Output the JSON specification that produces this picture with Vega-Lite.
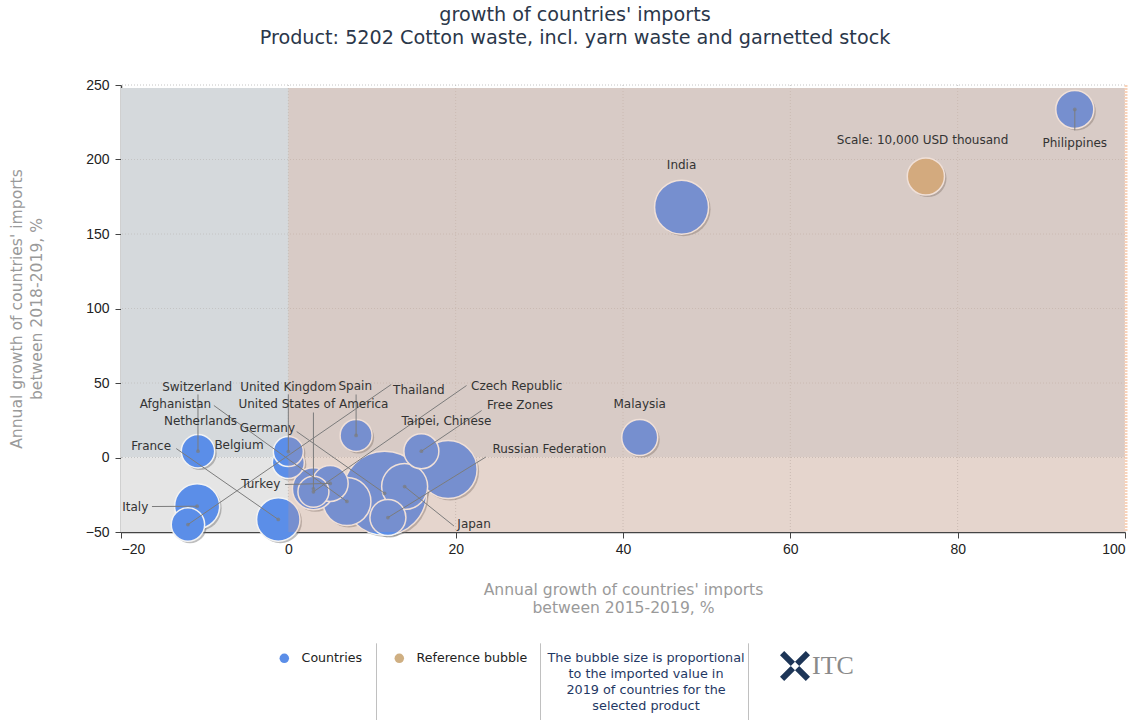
{
  "$schema": "https://vega.github.io/schema/vega-lite/v6.json",
  "width": 1004,
  "height": 447,
  "autosize": {"type": "none"},
  "padding": {"left": 121, "top": 85, "right": 18, "bottom": 188},
  "background": "white",
  "title": {
    "text": ["growth of countries' imports", "Product: 5202 Cotton waste, incl. yarn waste and garnetted stock"],
    "anchor": "middle",
    "frame": "group",
    "dx": -48,
    "offset": 30,
    "font": "DejaVu Sans",
    "fontSize": 19.2,
    "fontWeight": "normal",
    "color": "#2b374a",
    "lineHeight": 22.5
  },
  "config": {
    "view": {"stroke": null},
    "axis": {
      "grid": false,
      "domainColor": "#444444",
      "domainWidth": 1.5,
      "tickColor": "#444444",
      "tickSize": 6,
      "labelFont": "Liberation Sans",
      "labelFontSize": 14,
      "labelColor": "#222222",
      "titleFont": "DejaVu Sans",
      "titleFontSize": 15.6,
      "titleFontWeight": "normal",
      "titleColor": "#9a9a9a",
      "titleLineHeight": 18
    },
    "legend": {"labelFont": "DejaVu Sans", "titleFont": "DejaVu Sans"}
  },
  "resolve": {"scale": {"strokeDash": "independent"}, "legend": {"strokeDash": "independent"}},
  "datasets": {
    "bubbles": [
      {"name": "Germany", "type": "Countries", "x": 11.5, "y": -24.0, "value": 51000, "tx": -2.5, "ty": 20.1, "lx": 1.0, "ly": 17.4},
      {"name": "Taipei, Chinese", "type": "Countries", "x": 19.1, "y": -8.0, "value": 24300, "tx": 18.9, "ty": 24.8, "lx": null, "ly": null},
      {"name": "India", "type": "Countries", "x": 47.0, "y": 168.0, "value": 21070, "tx": 47.0, "ty": 196.6, "lx": null, "ly": null},
      {"name": "Afghanistan", "type": "Countries", "x": 7.0, "y": -29.5, "value": 16650, "tx": -13.5, "ty": 35.6, "lx": -8.9, "ly": 34.9},
      {"name": "Japan", "type": "Countries", "x": 13.9, "y": -19.5, "value": 15290, "tx": 22.2, "ty": -44.3, "lx": 19.8, "ly": -46.0},
      {"name": "Italy", "type": "Countries", "x": -10.9, "y": -32.7, "value": 14630, "tx": -18.3, "ty": -32.9, "lx": -16.3, "ly": -32.9},
      {"name": "France", "type": "Countries", "x": -1.2, "y": -41.6, "value": 13610, "tx": -16.4, "ty": 7.4, "lx": -13.4, "ly": 6.0},
      {"name": "United States of America", "type": "Countries", "x": 3.0, "y": -21.0, "value": 12750, "tx": 3.0, "ty": 35.6, "lx": 3.0, "ly": 30.2},
      {"name": "Philippines", "type": "Countries", "x": 94.0, "y": 233.6, "value": 10430, "tx": 94.0, "ty": 211.4, "lx": 94.0, "ly": 219.5},
      {"name": "Scale: 10,000 USD thousand", "type": "Reference bubble", "x": 76.2, "y": 188.6, "value": 10000, "tx": 75.8, "ty": 212.8, "lx": null, "ly": null},
      {"name": "Malaysia", "type": "Countries", "x": 42.0, "y": 13.4, "value": 9365, "tx": 42.0, "ty": 35.6, "lx": null, "ly": null},
      {"name": "Russian Federation", "type": "Countries", "x": 11.9, "y": -40.3, "value": 9365, "tx": 31.2, "ty": 5.4, "lx": 23.6, "ly": 0.3},
      {"name": "Turkey", "type": "Countries", "x": 5.0, "y": -17.4, "value": 9365, "tx": -3.3, "ty": -18.1, "lx": -0.4, "ly": -18.1},
      {"name": "Free Zones", "type": "Countries", "x": 15.9, "y": 4.2, "value": 8850, "tx": 27.7, "ty": 34.9, "lx": 23.1, "ly": 31.5},
      {"name": "Switzerland", "type": "Countries", "x": -10.8, "y": 4.2, "value": 2900, "tx": -10.9, "ty": 47.0, "lx": -10.8, "ly": 42.3},
      {"name": "Netherlands", "type": "Countries", "x": -10.8, "y": 4.2, "value": 8060, "tx": -10.5, "ty": 24.2, "lx": null, "ly": null},
      {"name": "Thailand", "type": "Countries", "x": -12.0, "y": -45.0, "value": 8060, "tx": 15.6, "ty": 45.6, "lx": 12.3, "ly": 49.0},
      {"name": "Spain", "type": "Countries", "x": 8.1, "y": 14.8, "value": 7400, "tx": 8.0, "ty": 48.3, "lx": 8.1, "ly": 42.3},
      {"name": "Belgium", "type": "Countries", "x": 0.0, "y": -3.4, "value": 7400, "tx": -5.9, "ty": 8.7, "lx": null, "ly": null},
      {"name": "Czech Republic", "type": "Countries", "x": 3.0, "y": -23.0, "value": 6945, "tx": 27.3, "ty": 47.7, "lx": 21.3, "ly": 48.3},
      {"name": "United Kingdom", "type": "Countries", "x": 0.0, "y": 4.0, "value": 6500, "tx": 0.0, "ty": 47.0, "lx": 0.0, "ly": 42.3}
    ]
  },
  "layer": [
    {
      "data": {"values": [{"x": -20, "xe": 100, "y": 0, "ye": 248}]},
      "mark": {"type": "rect", "color": "#d5d9dc"},
      "encoding": {
        "x": {"field": "x", "type": "quantitative", "scale": {"domain": [-20, 100], "nice": false, "zero": false},
          "axis": {"values": [-20, 0, 20, 40, 60, 80, 100], "title": ["Annual growth of countries' imports", "between 2015-2019, %"], "titlePadding": 26, "labelPadding": 4}},
        "x2": {"field": "xe"},
        "y": {"field": "y", "type": "quantitative", "scale": {"domain": [-50, 250], "nice": false, "zero": false},
          "axis": {"values": [-50, 0, 50, 100, 150, 200, 250], "title": ["Annual growth of countries' imports", "between 2018-2019, %"], "titlePadding": 41, "titleLineHeight": 20, "labelPadding": 6}},
        "y2": {"field": "ye"}
      }
    },
    {
      "data": {"values": [{"x": -20, "xe": 100, "y": -50, "ye": 0}]},
      "mark": {"type": "rect", "color": "#e5e5e5"},
      "encoding": {
        "x": {"field": "x", "type": "quantitative", "title": ["Annual growth of countries' imports", "between 2015-2019, %"]},
        "x2": {"field": "xe"},
        "y": {"field": "y", "type": "quantitative", "title": ["Annual growth of countries' imports", "between 2018-2019, %"]},
        "y2": {"field": "ye"}
      }
    },
    {
      "data": {"values": [{"x": 0}, {"x": 20}, {"x": 40}, {"x": 60}, {"x": 80}]},
      "mark": {"type": "rule", "color": "#c4c4c4", "strokeDash": [1, 2], "strokeWidth": 1},
      "encoding": {"x": {"field": "x", "type": "quantitative", "title": ["Annual growth of countries' imports", "between 2015-2019, %"]}}
    },
    {
      "data": {"values": [{"y": 0}, {"y": 50}, {"y": 100}, {"y": 150}, {"y": 200}, {"y": 250}]},
      "mark": {"type": "rule", "color": "#c4c4c4", "strokeDash": [1, 2], "strokeWidth": 1},
      "encoding": {"y": {"field": "y", "type": "quantitative", "title": ["Annual growth of countries' imports", "between 2018-2019, %"]}}
    },
    {
      "data": {"name": "bubbles"},
      "mark": {"type": "circle", "color": "#6f6f6f", "opacity": 0.45, "xOffset": 2, "yOffset": 2},
      "encoding": {
        "x": {"field": "x", "type": "quantitative", "title": ["Annual growth of countries' imports", "between 2015-2019, %"]},
        "y": {"field": "y", "type": "quantitative", "title": ["Annual growth of countries' imports", "between 2018-2019, %"]},
        "size": {"field": "value", "type": "quantitative"}
      }
    },
    {
      "data": {"name": "bubbles"},
      "mark": {"type": "circle", "stroke": "#f3f3f3", "strokeWidth": 1.5, "fillOpacity": 1},
      "encoding": {
        "x": {"field": "x", "type": "quantitative", "title": ["Annual growth of countries' imports", "between 2015-2019, %"]},
        "y": {"field": "y", "type": "quantitative", "title": ["Annual growth of countries' imports", "between 2018-2019, %"]},
        "size": {"field": "value", "type": "quantitative",
          "scale": {"type": "linear", "domain": [0, 10000], "range": [0, 1384], "zero": true},
          "legend": {
            "orient": "none", "legendX": 426, "legendY": 567, "values": [0],
            "title": ["The bubble size is proportional", "to the imported value in", "2019 of countries for the", "selected product"],
            "titleAlign": "center", "titleAnchor": "start", "titleBaseline": "top",
            "titleFontSize": 12.8, "titleFontWeight": "normal", "titleColor": "#1f3864", "titleLineHeight": 16, "titleLimit": 400,
            "symbolOpacity": 0, "symbolStrokeWidth": 0, "symbolFillColor": "transparent", "symbolStrokeColor": "transparent",
            "labelOpacity": 0, "labelExpr": "''", "padding": 0
          }},
        "color": {"field": "type", "type": "nominal",
          "scale": {"domain": ["Countries", "Reference bubble"], "range": ["#5b8ee8", "#cfaf82"]},
          "legend": {
            "orient": "none", "legendX": 157, "legendY": 567, "direction": "horizontal", "title": null,
            "symbolSize": 90, "symbolType": "circle", "symbolStrokeWidth": 0,
            "labelFontSize": 12.6, "labelColor": "#222222", "labelOffset": 11, "columnPadding": 31, "padding": 0
          }}
      }
    },
    {
      "data": {"values": [{"x": 0, "xe": 100, "y": -50, "ye": 248}]},
      "mark": {"type": "rect", "color": "#e6966e", "opacity": 0.2},
      "encoding": {
        "x": {"field": "x", "type": "quantitative", "title": ["Annual growth of countries' imports", "between 2015-2019, %"]},
        "x2": {"field": "xe"},
        "y": {"field": "y", "type": "quantitative", "title": ["Annual growth of countries' imports", "between 2018-2019, %"]},
        "y2": {"field": "ye"}
      }
    },
    {
      "data": {"values": [{"x": 100}]},
      "mark": {"type": "rule", "color": "#f9d3ba", "strokeWidth": 3, "strokeDash": [2, 1], "xOffset": 1},
      "encoding": {"x": {"field": "x", "type": "quantitative", "title": ["Annual growth of countries' imports", "between 2015-2019, %"]}}
    },
    {
      "data": {"name": "bubbles"},
      "transform": [{"filter": "isValid(datum.lx)"}],
      "mark": {"type": "rule", "color": "#7c7c7c", "strokeWidth": 1},
      "encoding": {
        "x": {"field": "lx", "type": "quantitative", "title": ["Annual growth of countries' imports", "between 2015-2019, %"]},
        "y": {"field": "ly", "type": "quantitative", "title": ["Annual growth of countries' imports", "between 2018-2019, %"]},
        "x2": {"field": "x"},
        "y2": {"field": "y"}
      }
    },
    {
      "data": {"name": "bubbles"},
      "transform": [{"filter": "isValid(datum.lx)"}],
      "mark": {"type": "circle", "color": "#7c7c7c", "size": 14},
      "encoding": {
        "x": {"field": "x", "type": "quantitative", "title": ["Annual growth of countries' imports", "between 2015-2019, %"]},
        "y": {"field": "y", "type": "quantitative", "title": ["Annual growth of countries' imports", "between 2018-2019, %"]}
      }
    },
    {
      "data": {"name": "bubbles"},
      "transform": [{"filter": "false"}],
      "mark": {"type": "point", "filled": true, "color": "#1d3557"},
      "encoding": {
        "x": {"field": "x", "type": "quantitative", "title": ["Annual growth of countries' imports", "between 2015-2019, %"]},
        "y": {"field": "y", "type": "quantitative", "title": ["Annual growth of countries' imports", "between 2018-2019, %"]},
        "shape": {"datum": "ITC",
          "scale": {"range": ["M-1,-0.72L-0.72,-1L1,0.72L0.72,1Z M1,-0.72L0.72,-1L-1,0.72L-0.72,1Z"]},
          "legend": {
            "orient": "none", "legendX": 659, "legendY": 566, "title": null,
            "symbolSize": 900, "symbolFillColor": "#1d3557", "symbolStrokeWidth": 0, "symbolOpacity": 1,
            "labelFont": "Liberation Serif", "labelFontSize": 26, "labelColor": "#8a8a8a", "labelOffset": 2, "padding": 0
          }}
      }
    },
    {
      "data": {"name": "bubbles"},
      "transform": [{"filter": "false"}],
      "mark": {"type": "rule", "color": "#ababab", "strokeWidth": 1},
      "encoding": {
        "x": {"field": "x", "type": "quantitative", "title": ["Annual growth of countries' imports", "between 2015-2019, %"]},
        "strokeDash": {"datum": "separator", "scale": {"range": [[1, 0]]},
          "legend": {"orient": "none", "legendX": 216.5, "legendY": 558, "title": null, "symbolType": "M0,-1L0,1", "symbolSize": 5929,
            "symbolStrokeColor": "#ababab", "symbolStrokeWidth": 1, "labelExpr": "''", "labelOffset": 0, "padding": 0}}
      }
    },
    {
      "data": {"name": "bubbles"},
      "transform": [{"filter": "false"}],
      "mark": {"type": "rule", "color": "#ababab", "strokeWidth": 1},
      "encoding": {
        "x": {"field": "x", "type": "quantitative", "title": ["Annual growth of countries' imports", "between 2015-2019, %"]},
        "strokeDash": {"datum": "separator", "scale": {"range": [[1, 0]]},
          "legend": {"orient": "none", "legendX": 380.5, "legendY": 558, "title": null, "symbolType": "M0,-1L0,1", "symbolSize": 5929,
            "symbolStrokeColor": "#ababab", "symbolStrokeWidth": 1, "labelExpr": "''", "labelOffset": 0, "padding": 0}}
      }
    },
    {
      "data": {"name": "bubbles"},
      "transform": [{"filter": "false"}],
      "mark": {"type": "rule", "color": "#ababab", "strokeWidth": 1},
      "encoding": {
        "x": {"field": "x", "type": "quantitative", "title": ["Annual growth of countries' imports", "between 2015-2019, %"]},
        "strokeDash": {"datum": "separator", "scale": {"range": [[1, 0]]},
          "legend": {"orient": "none", "legendX": 588.5, "legendY": 558, "title": null, "symbolType": "M0,-1L0,1", "symbolSize": 5929,
            "symbolStrokeColor": "#ababab", "symbolStrokeWidth": 1, "labelExpr": "''", "labelOffset": 0, "padding": 0}}
      }
    },
    {
      "data": {"name": "bubbles"},
      "mark": {"type": "text", "font": "DejaVu Sans", "fontSize": 12, "color": "#333333"},
      "encoding": {
        "x": {"field": "tx", "type": "quantitative", "title": ["Annual growth of countries' imports", "between 2015-2019, %"]},
        "y": {"field": "ty", "type": "quantitative", "title": ["Annual growth of countries' imports", "between 2018-2019, %"]},
        "text": {"field": "name"}
      }
    }
  ]
}
